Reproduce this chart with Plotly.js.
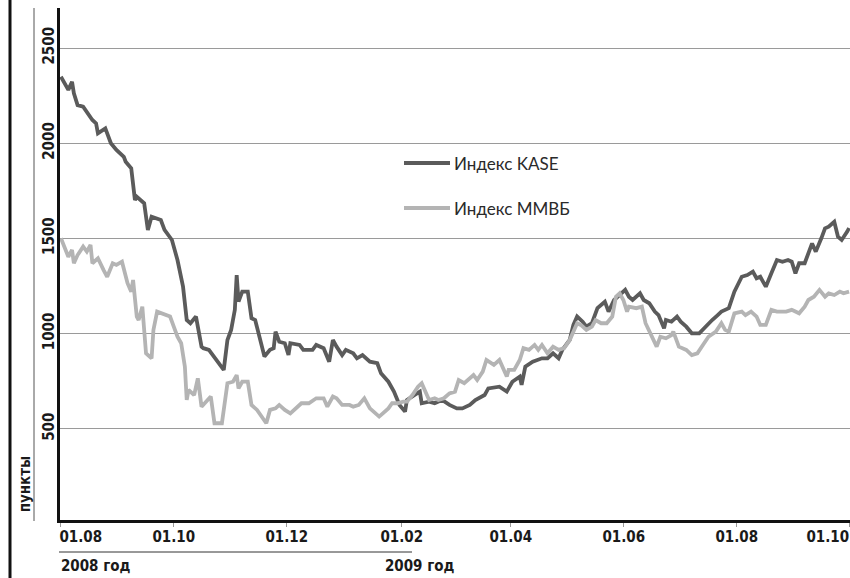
<!DOCTYPE html>
<html>
<head>
<meta charset="utf-8">
<script src="https://cdn.plot.ly/plotly-3.0.1.min.js"></script>
<style>
html,body{margin:0;padding:0;background:#fff;}
#chart{width:850px;height:578px;}
#chart .cond text, #chart .ytick text { font-stretch: condensed !important; }
</style>
</head>
<body>
<div id="chart"></div>
<script>
// ---- Data ----
const kaseDates = ['2008-08-01','2008-08-05','2008-08-07','2008-08-08','2008-08-10','2008-08-13','2008-08-18','2008-08-20','2008-08-21','2008-08-25','2008-08-28','2008-08-31','2008-09-04','2008-09-05','2008-09-08','2008-09-10','2008-09-11','2008-09-15','2008-09-17','2008-09-19','2008-09-24','2008-09-26','2008-09-30','2008-10-02','2008-10-03','2008-10-06','2008-10-08','2008-10-10','2008-10-13','2008-10-16','2008-10-17','2008-10-20','2008-10-24','2008-10-28','2008-10-30','2008-11-01','2008-11-03','2008-11-04','2008-11-05','2008-11-07','2008-11-10','2008-11-12','2008-11-14','2008-11-17','2008-11-19','2008-11-22','2008-11-24','2008-11-25','2008-11-27','2008-11-30','2008-12-02','2008-12-03','2008-12-08','2008-12-10','2008-12-15','2008-12-17','2008-12-21','2008-12-24','2008-12-26','2008-12-28','2008-12-31','2009-01-02','2009-01-06','2009-01-08','2009-01-11','2009-01-15','2009-01-19','2009-01-21','2009-01-25','2009-01-28','2009-01-31','2009-02-03','2009-02-04','2009-02-08','2009-02-11','2009-02-12','2009-02-16','2009-02-19','2009-02-23','2009-02-27','2009-03-03','2009-03-06','2009-03-10','2009-03-13','2009-03-18','2009-03-20','2009-03-26','2009-03-30','2009-04-02','2009-04-06','2009-04-07','2009-04-09','2009-04-13','2009-04-18','2009-04-21','2009-04-24','2009-04-27','2009-04-29','2009-05-03','2009-05-05','2009-05-07','2009-05-10','2009-05-12','2009-05-15','2009-05-18','2009-05-22','2009-05-24','2009-05-27','2009-05-30','2009-06-02','2009-06-04','2009-06-06','2009-06-10','2009-06-12','2009-06-15','2009-06-18','2009-06-20','2009-06-23','2009-06-24','2009-06-27','2009-06-30','2009-07-02','2009-07-05','2009-07-08','2009-07-12','2009-07-16','2009-07-19','2009-07-22','2009-07-24','2009-07-28','2009-07-31','2009-08-04','2009-08-07','2009-08-10','2009-08-12','2009-08-14','2009-08-17','2009-08-20','2009-08-23','2009-08-26','2009-08-29','2009-08-31','2009-09-02','2009-09-04','2009-09-07','2009-09-11','2009-09-13','2009-09-16','2009-09-18','2009-09-20','2009-09-23','2009-09-25','2009-09-27','2009-09-30','2009-10-01'];
const kaseValues = [2349,2280,2323,2262,2200,2192,2122,2104,2052,2078,2000,1965,1929,1903,1868,1702,1719,1685,1545,1614,1597,1545,1492,1422,1387,1247,1072,1055,1090,932,924,915,862,810,967,1020,1125,1308,1168,1221,1221,1081,1072,967,880,915,924,1011,958,950,888,950,941,915,915,941,924,853,967,932,888,915,897,871,888,853,845,792,748,696,626,591,652,678,696,635,643,635,652,626,608,608,626,652,678,713,722,696,748,775,731,827,853,871,871,897,871,915,967,1046,1090,1063,1037,1055,1134,1168,1116,1177,1203,1230,1194,1177,1212,1177,1160,1116,1098,1028,1072,1063,1090,1063,1037,1002,1002,1046,1072,1098,1116,1134,1221,1299,1308,1326,1291,1299,1247,1317,1387,1378,1387,1378,1317,1370,1370,1474,1431,1501,1553,1562,1588,1509,1492,1536,1555];

const micexDates = ['2008-08-01','2008-08-03','2008-08-05','2008-08-07','2008-08-08','2008-08-10','2008-08-13','2008-08-15','2008-08-17','2008-08-18','2008-08-21','2008-08-24','2008-08-26','2008-08-29','2008-08-31','2008-09-03','2008-09-06','2008-09-08','2008-09-09','2008-09-11','2008-09-12','2008-09-14','2008-09-16','2008-09-19','2008-09-20','2008-09-22','2008-09-25','2008-09-29','2008-10-01','2008-10-03','2008-10-05','2008-10-07','2008-10-08','2008-10-09','2008-10-12','2008-10-14','2008-10-16','2008-10-19','2008-10-21','2008-10-23','2008-10-27','2008-10-28','2008-10-30','2008-11-02','2008-11-04','2008-11-05','2008-11-07','2008-11-10','2008-11-12','2008-11-15','2008-11-17','2008-11-20','2008-11-22','2008-11-25','2008-11-27','2008-11-30','2008-12-03','2008-12-07','2008-12-09','2008-12-13','2008-12-17','2008-12-21','2008-12-23','2008-12-26','2008-12-28','2008-12-31','2009-01-04','2009-01-06','2009-01-09','2009-01-12','2009-01-15','2009-01-17','2009-01-20','2009-01-22','2009-01-25','2009-01-27','2009-01-30','2009-02-02','2009-02-04','2009-02-07','2009-02-10','2009-02-12','2009-02-14','2009-02-16','2009-02-19','2009-02-21','2009-02-24','2009-02-27','2009-03-02','2009-03-04','2009-03-07','2009-03-10','2009-03-12','2009-03-14','2009-03-17','2009-03-19','2009-03-22','2009-03-23','2009-03-26','2009-03-30','2009-03-31','2009-04-03','2009-04-06','2009-04-08','2009-04-11','2009-04-14','2009-04-16','2009-04-18','2009-04-21','2009-04-24','2009-04-27','2009-04-30','2009-05-03','2009-05-07','2009-05-09','2009-05-12','2009-05-15','2009-05-17','2009-05-20','2009-05-23','2009-05-26','2009-05-28','2009-05-30','2009-06-01','2009-06-03','2009-06-04','2009-06-08','2009-06-11','2009-06-13','2009-06-17','2009-06-19','2009-06-21','2009-06-24','2009-06-27','2009-06-28','2009-07-01','2009-07-05','2009-07-08','2009-07-11','2009-07-14','2009-07-17','2009-07-21','2009-07-24','2009-07-26','2009-07-28','2009-07-31','2009-08-04','2009-08-06','2009-08-09','2009-08-12','2009-08-14','2009-08-17','2009-08-20','2009-08-23','2009-08-28','2009-08-31','2009-09-04','2009-09-07','2009-09-09','2009-09-12','2009-09-15','2009-09-18','2009-09-20','2009-09-23','2009-09-26','2009-09-28','2009-10-01'];
const micexValues = [1501,1457,1404,1440,1370,1413,1457,1431,1466,1370,1396,1335,1299,1370,1361,1378,1265,1221,1282,1090,1072,1142,897,871,1020,1116,1107,1090,1037,984,950,827,652,705,678,766,617,652,670,530,530,600,740,748,783,713,748,748,626,600,574,530,600,608,626,600,582,617,635,635,661,661,617,670,661,626,626,617,626,661,608,591,565,582,608,635,635,643,643,678,722,740,696,652,661,652,661,687,696,757,740,766,783,757,801,862,845,836,862,775,810,810,862,924,915,941,915,941,897,932,915,924,967,1055,1046,1020,1037,1072,1055,1055,1090,1194,1212,1177,1116,1142,1134,1142,1055,967,932,984,976,993,1011,932,915,888,897,941,984,1011,1055,1020,1011,1107,1116,1098,1116,1090,1046,1046,1125,1116,1116,1125,1107,1142,1177,1194,1230,1194,1212,1203,1221,1212,1221];

const seriesNames = ['Индекс KASE', 'Индекс ММВБ'];
const xTickDates = ['2008-08-01','2008-10-01','2008-12-01','2009-02-01','2009-04-01','2009-06-01','2009-08-01','2009-10-01'];
const xTickLabels = ['01.08','01.10','01.12','01.02','01.04','01.06','01.08','01.10'];
const yTickValues = [500, 1000, 1500, 2000, 2500];
const yTickLabels = ['500', '1000', '1500', '2000', '2500'];
const yAxisLabel = 'пункты';
const yearLabels = ['2008 год', '2009 год'];
const yearDates = ['2008-08-01', '2009-02-01'];

// ---- Styles ----
const colors = ['#5b5b5b', '#b4b4b4'];
const narrow = '"DejaVu Sans", sans-serif';
const legendFont = 'Lato, "Open Sans", sans-serif';

const traces = [
  {x: kaseDates, y: kaseValues, name: seriesNames[0], type: 'scatter', mode: 'lines',
   line: {color: colors[0], width: 3.8}, hoverinfo: 'skip'},
  {x: micexDates, y: micexValues, name: seriesNames[1], type: 'scatter', mode: 'lines',
   line: {color: colors[1], width: 3.8}, hoverinfo: 'skip'}
];

// Pixel helpers for layout placement (figure 850x578, plot 60..850 x 8..520)
const W = 850, H = 578, L = 60, R = 0, T = 8, B = 58;
const plotH = H - T - B, plotW = W - L - R;
const py = (pix) => (H - B - pix) / plotH;   // pixel y -> paper y
const px = (pix) => (pix - L) / plotW;       // pixel x -> paper x

const tickFont = {family: narrow, size: 15, color: '#1a1a1a', weight: 'bold'};
const annotations = [];
xTickDates.forEach((d, i) => {
  const last = i === xTickDates.length - 1;
  annotations.push({
    x: d, xref: 'x', y: py(537), yref: 'paper', yanchor: 'middle',
    xanchor: i === 0 ? 'left' : (last ? 'right' : 'center'),
    xshift: i === 0 ? -6 : (last ? 4 : 0),
    text: xTickLabels[i], showarrow: false, font: tickFont
  });
});
yearLabels.forEach((t, i) => {
  annotations.push({
    x: yearDates[i], xref: 'x', y: py(566), yref: 'paper',
    xanchor: 'left', yanchor: 'middle', xshift: i === 0 ? -6 : -22,
    text: t, showarrow: false, font: tickFont
  });
});
annotations.push({
  x: px(24), xref: 'paper', y: py(518), yref: 'paper', xanchor: 'center', yanchor: 'bottom',
  text: yAxisLabel, textangle: -90, showarrow: false, font: tickFont
});
const legendY = [163, 208];
seriesNames.forEach((n, i) => {
  annotations.push({
    x: px(452), xref: 'paper', y: py(legendY[i]), yref: 'paper', xanchor: 'left', yanchor: 'middle',
    text: n, showarrow: false,
    font: {family: legendFont, size: 17, color: '#2a2a2a'}
  });
});

const shapes = [];
legendY.forEach((yy, i) => {
  shapes.push({type: 'line', xref: 'paper', yref: 'paper', x0: px(404), x1: px(450), y0: py(yy), y1: py(yy),
    line: {color: colors[i], width: 4}});
});
shapes.push(
  {type: 'line', xref: 'paper', yref: 'paper', x0: px(10), x1: px(10), y0: py(0), y1: py(578),
   line: {color: '#111', width: 3}},
  {type: 'line', xref: 'paper', yref: 'paper', x0: px(34), x1: px(34), y0: py(8), y1: py(521),
   line: {color: '#555', width: 1}},
  {type: 'line', xref: 'paper', yref: 'paper', x0: px(59), x1: px(412), y0: py(552), y1: py(552),
   line: {color: '#333', width: 1}}
);

const layout = {
  width: W, height: H,
  margin: {l: L, r: R, t: T, b: B, pad: 0},
  paper_bgcolor: '#fff', plot_bgcolor: '#fff',
  showlegend: false,
  xaxis: {
    type: 'date', range: ['2008-07-31 12:00', '2009-10-01 12:00'],
    tickvals: xTickDates, showticklabels: false,
    ticks: 'outside', ticklen: 4, tickcolor: '#999', tickwidth: 1,
    showgrid: false, zeroline: false,
    showline: true, linecolor: '#111', linewidth: 3
  },
  yaxis: {
    range: [22, 2710],
    tickvals: yTickValues, ticktext: yTickLabels, tickangle: -90,
    ticks: '', showgrid: true, gridcolor: '#9a9a9a', gridwidth: 1,
    zeroline: false, showline: true, linecolor: '#111', linewidth: 3,
    ticklabelstandoff: -3,
    tickfont: tickFont
  },
  annotations: annotations,
  shapes: shapes
};

Plotly.newPlot('chart', traces, layout, {displayModeBar: false, staticPlot: true}).then(() => {
  document.querySelectorAll('#chart .annotation').forEach((g, i) => {
    if (i < xTickDates.length + yearLabels.length + 1) g.classList.add('cond');
  });
});
</script>
</body>
</html>
